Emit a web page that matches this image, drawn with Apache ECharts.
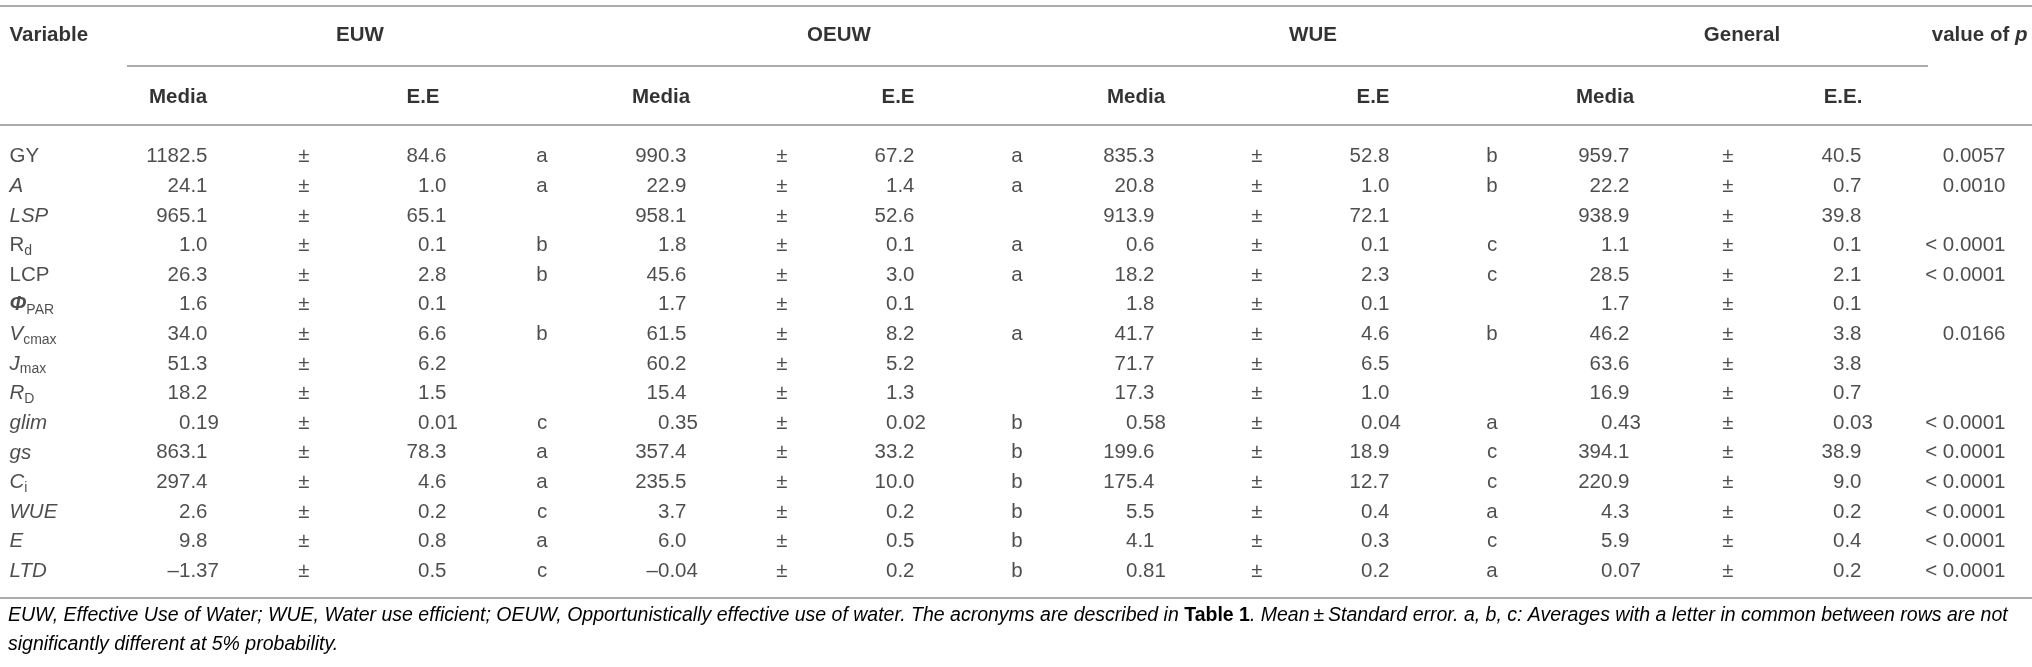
<!DOCTYPE html>
<html>
<head>
<meta charset="utf-8">
<script src="https://cdn.jsdelivr.net/npm/echarts@6/dist/echarts.min.js"></script>
<style>
  html, body { margin: 0; padding: 0; background: #fff; }
  #table { width: 2032px; height: 667px; }
</style>
</head>
<body>
<div id="table"></div>
<script>
// 표 데이터
const variables = ['GY', 'A', 'LSP', 'Rd', 'LCP', 'PhiPAR', 'Vcmax', 'Jmax', 'RD', 'glim', 'gs', 'Ci', 'WUE', 'E', 'LTD'];

const groups     = ['EUW', 'OEUW', 'WUE', 'General'];
const subHeaders = ['Media', 'E.E', 'Media', 'E.E', 'Media', 'E.E', 'Media', 'E.E.'];

const euwMedia  = [1182.5, 24.1, 965.1, 1.0, 26.3, 1.6, 34.0, 51.3, 18.2, 0.19, 863.1, 297.4, 2.6, 9.8, -1.37];
const euwSE     = [84.6, 1.0, 65.1, 0.1, 2.8, 0.1, 6.6, 6.2, 1.5, 0.01, 78.3, 4.6, 0.2, 0.8, 0.5];
const euwLetter = ['a', 'a', '', 'b', 'b', '', 'b', '', '', 'c', 'a', 'a', 'c', 'a', 'c'];

const oeuwMedia  = [990.3, 22.9, 958.1, 1.8, 45.6, 1.7, 61.5, 60.2, 15.4, 0.35, 357.4, 235.5, 3.7, 6.0, -0.04];
const oeuwSE     = [67.2, 1.4, 52.6, 0.1, 3.0, 0.1, 8.2, 5.2, 1.3, 0.02, 33.2, 10.0, 0.2, 0.5, 0.2];
const oeuwLetter = ['a', 'a', '', 'a', 'a', '', 'a', '', '', 'b', 'b', 'b', 'b', 'b', 'b'];

const wueMedia  = [835.3, 20.8, 913.9, 0.6, 18.2, 1.8, 41.7, 71.7, 17.3, 0.58, 199.6, 175.4, 5.5, 4.1, 0.81];
const wueSE     = [52.8, 1.0, 72.1, 0.1, 2.3, 0.1, 4.6, 6.5, 1.0, 0.04, 18.9, 12.7, 0.4, 0.3, 0.2];
const wueLetter = ['b', 'b', '', 'c', 'c', '', 'b', '', '', 'a', 'c', 'c', 'a', 'c', 'a'];

const generalMedia = [959.7, 22.2, 938.9, 1.1, 28.5, 1.7, 46.2, 63.6, 16.9, 0.43, 394.1, 220.9, 4.3, 5.9, 0.07];
const generalSE    = [40.5, 0.7, 39.8, 0.1, 2.1, 0.1, 3.8, 3.8, 0.7, 0.03, 38.9, 9.0, 0.2, 0.4, 0.2];

const pValues = ['0.0057', '0.0010', '', '< 0.0001', '< 0.0001', '', '0.0166', '', '', '< 0.0001', '< 0.0001', '< 0.0001', '< 0.0001', '< 0.0001', '< 0.0001'];

// 소수점 자리수 (행별)
const mediaDecimals = [1, 1, 1, 1, 1, 1, 1, 1, 1, 2, 1, 1, 1, 1, 2];
const seDecimals    = [1, 1, 1, 1, 1, 1, 1, 1, 1, 2, 1, 1, 1, 1, 1];

// 변수명 표시 (이탤릭 / 아래첨자)
const VAR_LABEL = {
  GY: '{rm|GY}', A: '{it|A}', LSP: '{it|LSP}', Rd: '{rm|R}{sub|d}', LCP: '{rm|LCP}',
  PhiPAR: '{bi|Φ}{sub|PAR}', Vcmax: '{it|V}{sub|cmax}', Jmax: '{it|J}{sub|max}', RD: '{it|R}{sub|D}',
  glim: '{it|glim}', gs: '{it|gs}', Ci: '{it|C}{sub|i}', WUE: '{it|WUE}', E: '{it|E}', LTD: '{it|LTD}'
};

// 레이아웃 (열 기준 위치)
const W = 2032;
const FONT = '"Liberation Sans", Arial, Helvetica, sans-serif';
const FS = 20.5;
const DIGIT = FS * 0.556;
const TEXT = '#231f20';
const RULE = '#ababab';

const COL = {
  variable: 9,
  media:  [208, 687, 1155, 1630],
  pm:     [304, 782, 1257, 1728],
  se:     [447, 915, 1390, 1862],
  letter: [542, 1017, 1492],
  p: 2006,
  group:  [360, 839, 1313, 1742],
  subMedia: [178, 661, 1136, 1605],
  subSE:    [423, 898, 1373, 1843],
  pHead: 2028
};

const rich = {
  rm:  { fontFamily: FONT, fontSize: FS, color: TEXT, lineHeight: 25 },
  it:  { fontFamily: FONT, fontSize: FS, color: TEXT, fontStyle: 'italic', lineHeight: 25 },
  bi:  { fontFamily: FONT, fontSize: FS, color: TEXT, fontStyle: 'italic', fontWeight: 'bold', lineHeight: 25 },
  sub: { fontFamily: FONT, fontSize: 14, color: TEXT, lineHeight: 25, verticalAlign: 'bottom' },
  hb:  { fontFamily: FONT, fontSize: FS, color: '#000', fontWeight: 'bold', lineHeight: 25 },
  hbi: { fontFamily: FONT, fontSize: FS, color: '#000', fontWeight: 'bold', fontStyle: 'italic', lineHeight: 25 }
};

function fmt(v, d) {
  return v.toFixed(d).replace('-', '–');
}

// 텍스트 셀 series
function cellSeries(name, gridIdx, items, position) {
  return {
    name: name,
    type: 'scatter',
    xAxisIndex: gridIdx,
    yAxisIndex: gridIdx,
    symbolSize: 1,
    itemStyle: { color: 'rgba(0,0,0,0)' },
    silent: true,
    label: {
      show: true,
      position: position,
      distance: 0,
      fontFamily: FONT,
      fontSize: FS,
      color: TEXT,
      rich: rich,
      formatter: (p) => p.data.text
    },
    data: items
  };
}

// 숫자 열 (소수점 맞춤)
function numberSeries(name, x, values, decimals) {
  const items = [];
  values.forEach((v, i) => {
    items.push({
      value: [x, i],
      text: fmt(v, decimals[i]),
      label: { offset: [(decimals[i] - 1) * DIGIT, 0] }
    });
  });
  return cellSeries(name, 0, items, 'left');
}

function constSeries(name, x, texts, position) {
  const items = [];
  texts.forEach((t, i) => {
    if (t !== '') items.push({ value: [x, i], text: t });
  });
  return cellSeries(name, 0, items, position);
}

const medias  = [euwMedia, oeuwMedia, wueMedia, generalMedia];
const ses     = [euwSE, oeuwSE, wueSE, generalSE];
const letters = [euwLetter, oeuwLetter, wueLetter];

let series = [];

series.push(constSeries('variable', COL.variable, variables.map((v) => VAR_LABEL[v]), 'right'));

groups.forEach((g, gi) => {
  series.push(numberSeries(g + ' media', COL.media[gi], medias[gi], mediaDecimals));
  series.push(constSeries(g + ' pm', COL.pm[gi], variables.map(() => '±'), 'inside'));
  series.push(numberSeries(g + ' se', COL.se[gi], ses[gi], seDecimals));
  if (letters[gi]) {
    series.push(constSeries(g + ' letter', COL.letter[gi], letters[gi], 'inside'));
  }
});

series.push(constSeries('p', COL.p, pValues, 'left'));

// 헤더
const headTop = [
  { value: [COL.variable, 0], text: '{hb|Variable}', pos: 'right' },
  { value: [COL.pHead, 0], text: '{hb|value of }{hbi|p}', pos: 'left' }
];
groups.forEach((g, gi) => headTop.push({ value: [COL.group[gi], 0], text: '{hb|' + g + '}', pos: 'inside' }));
subHeaders.forEach((s, si) => {
  const gi = Math.floor(si / 2);
  const x = si % 2 == 0 ? COL.subMedia[gi] : COL.subSE[gi];
  headTop.push({ value: [x, 1], text: '{hb|' + s + '}', pos: 'inside' });
});

headTop.forEach((h) => {
  series.push(cellSeries('head', 1, [{ value: h.value, text: h.text }], h.pos));
});

// 표 구분선 + 각주
function rule(y, x1, x2) {
  return {
    type: 'line',
    silent: true,
    shape: { x1: x1, y1: y, x2: x2, y2: y },
    style: { stroke: RULE, lineWidth: 2 }
  };
}

const noteStyle = { fontFamily: FONT, fontSize: 19.5, fontStyle: 'italic', color: TEXT, lineHeight: 29 };

const option = {
  animation: false,
  grid: [
    { left: 0, right: 0, top: 142, height: 444 },
    { left: 0, right: 0, top: 4, height: 124 }
  ],
  xAxis: [
    { type: 'value', gridIndex: 0, min: 0, max: W, show: false },
    { type: 'value', gridIndex: 1, min: 0, max: W, show: false }
  ],
  yAxis: [
    { type: 'category', gridIndex: 0, data: variables, inverse: true, show: false },
    { type: 'category', gridIndex: 1, data: ['group', 'sub'], inverse: true, show: false }
  ],
  series: series,
  graphic: [
    rule(6, 0, W),
    rule(66, 127, 1928),
    rule(125, 0, W),
    rule(598, 0, W),
    {
      type: 'text',
      left: 8,
      top: 606,
      silent: true,
      style: {
        text: '{n|EUW, Effective Use of Water; WUE, Water use efficient; OEUW, Opportunistically effective use of water. The acronyms are described in }{b|Table 1}{n|. Mean\u2009±\u2009Standard error. a, b, c: Averages with a letter in common between rows are not}\n{n|significantly different at 5% probability.}',
        rich: {
          n: noteStyle,
          b: { fontFamily: FONT, fontSize: 19.5, fontWeight: 'bold', color: '#000', lineHeight: 29 }
        }
      }
    }
  ]
};

const chart = echarts.init(document.getElementById('table'), null, { renderer: 'canvas' });
chart.setOption(option);
</script>
</body>
</html>
